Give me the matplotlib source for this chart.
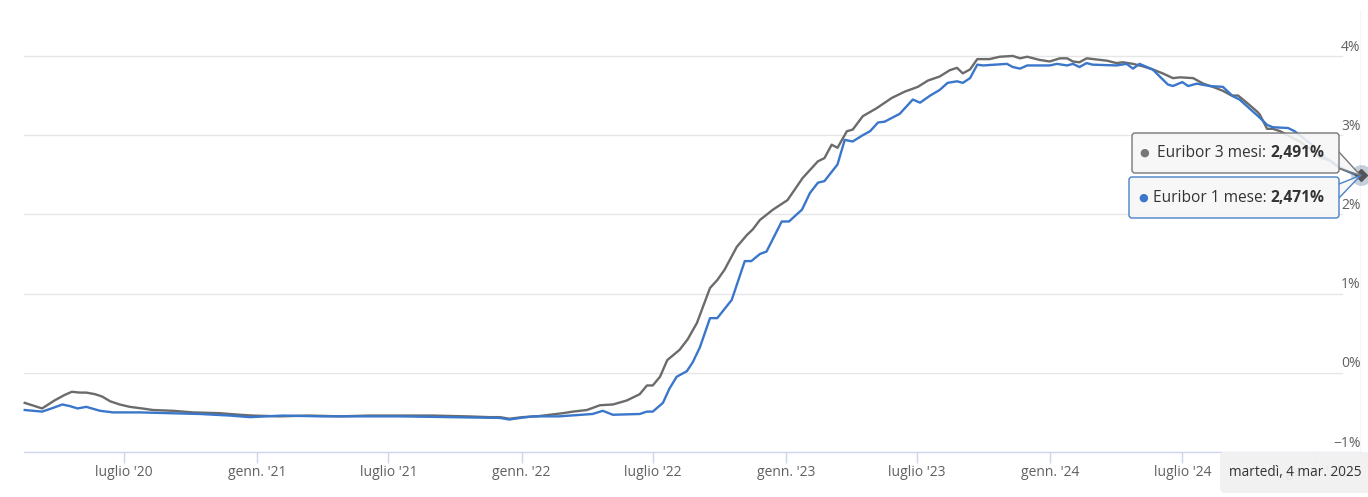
import matplotlib
matplotlib.use("Agg")
import matplotlib.pyplot as plt
import pandas as pd
from matplotlib.patches import FancyBboxPatch, Polygon

plt.rcParams['font.family'] = ['Open Sans', 'DejaVu Sans']

# ---------------- data ----------------
gray_dates = ["2020-02-15","2020-03-10","2020-03-27","2020-04-10","2020-04-20","2020-05-01","2020-05-10","2020-05-22",
              "2020-06-01","2020-06-12","2020-06-25","2020-07-09","2020-07-26","2020-08-10","2020-09-07","2020-10-04",
              "2020-11-10","2020-12-08","2020-12-26","2021-02-01","2021-03-14","2021-04-25","2021-06-05","2021-07-17",
              "2021-08-31","2021-10-17","2021-11-18","2021-12-02","2021-12-15","2022-01-02","2022-01-22","2022-02-09",
              "2022-02-27","2022-03-13","2022-04-01","2022-04-19","2022-05-07","2022-05-26","2022-06-13","2022-06-23",
              "2022-07-01","2022-07-11","2022-07-21","2022-08-07","2022-08-18","2022-08-31","2022-09-18","2022-09-28",
              "2022-10-08","2022-10-25","2022-11-08","2022-11-16","2022-11-26","2022-12-14","2023-01-03","2023-01-24",
              "2023-02-14","2023-02-23","2023-03-05","2023-03-13","2023-03-26","2023-04-03","2023-04-17","2023-05-06",
              "2023-05-27","2023-06-14","2023-07-02","2023-07-16","2023-08-01","2023-08-15","2023-08-25","2023-09-02",
              "2023-09-12","2023-09-22","2023-10-09","2023-10-23","2023-11-10","2023-11-20","2023-11-30","2023-12-17",
              "2023-12-31","2024-01-14","2024-01-24","2024-02-01","2024-02-10","2024-02-20","2024-03-19","2024-04-01",
              "2024-04-10","2024-04-24","2024-05-07","2024-05-21","2024-06-04","2024-06-18","2024-06-28","2024-07-16",
              "2024-07-30","2024-08-12","2024-08-26","2024-09-07","2024-09-16","2024-09-28","2024-10-12","2024-10-16",
              "2024-10-26","2024-11-03","2024-11-13","2024-11-27","2024-12-10","2024-12-24","2025-01-07","2025-01-21",
              "2025-02-04","2025-02-18","2025-03-04"]
gray_values = [-0.38,-0.45,-0.35,-0.28,-0.24,-0.25,-0.25,-0.27,
               -0.30,-0.36,-0.40,-0.43,-0.45,-0.47,-0.48,-0.50,
               -0.51,-0.53,-0.54,-0.55,-0.54,-0.55,-0.54,-0.54,
               -0.54,-0.55,-0.56,-0.56,-0.58,-0.56,-0.55,-0.53,
               -0.51,-0.49,-0.47,-0.41,-0.40,-0.35,-0.27,-0.16,
               -0.16,-0.05,0.16,0.29,0.42,0.63,1.07,1.17,
               1.30,1.59,1.74,1.81,1.93,2.06,2.18,2.46,
               2.67,2.71,2.88,2.84,3.05,3.07,3.24,3.34,
               3.47,3.55,3.61,3.69,3.74,3.82,3.85,3.78,
               3.83,3.96,3.96,3.99,4.00,3.97,3.99,3.95,
               3.93,3.97,3.97,3.93,3.92,3.97,3.94,3.91,
               3.92,3.90,3.87,3.83,3.78,3.72,3.73,3.72,
               3.65,3.61,3.56,3.50,3.50,3.41,3.30,3.26,
               3.08,3.08,3.05,2.98,2.92,2.83,2.72,2.68,
               2.58,2.53,2.491]

blue_dates = ["2020-02-15","2020-03-10","2020-03-23","2020-04-07","2020-04-17","2020-04-28","2020-05-10","2020-05-29",
              "2020-06-16","2020-07-23","2020-09-02","2020-10-14","2020-11-24","2020-12-22","2021-02-05","2021-03-28",
              "2021-05-23","2021-07-17","2021-09-24","2021-12-02","2021-12-15","2021-12-30","2022-01-16","2022-02-22",
              "2022-04-09","2022-04-23","2022-05-07","2022-06-13","2022-06-23","2022-07-01","2022-07-15","2022-07-24",
              "2022-08-03","2022-08-17","2022-08-25","2022-09-04","2022-09-18","2022-09-28","2022-10-18","2022-11-05",
              "2022-11-14","2022-11-26","2022-12-05","2022-12-26","2023-01-05","2023-01-23","2023-02-03","2023-02-14",
              "2023-02-23","2023-03-13","2023-03-23","2023-04-03","2023-04-17","2023-04-27","2023-05-08","2023-05-17",
              "2023-06-07","2023-06-25","2023-07-05","2023-07-19","2023-08-01","2023-08-12","2023-08-25","2023-09-02",
              "2023-09-12","2023-09-22","2023-09-30","2023-11-02","2023-11-10","2023-11-20","2023-11-30","2023-12-31",
              "2024-01-10","2024-01-24","2024-02-01","2024-02-10","2024-02-20","2024-02-28","2024-04-01","2024-04-15",
              "2024-04-24","2024-05-03","2024-05-21","2024-06-11","2024-06-18","2024-07-01","2024-07-09","2024-07-21",
              "2024-08-08","2024-08-26","2024-09-09","2024-09-18","2024-10-16","2024-10-26","2024-11-03","2024-11-24",
              "2024-12-03","2024-12-17","2024-12-31","2025-01-14","2025-01-28","2025-02-11","2025-03-04"]
blue_values = [-0.47,-0.49,-0.45,-0.40,-0.42,-0.45,-0.43,-0.48,
               -0.50,-0.50,-0.51,-0.52,-0.54,-0.56,-0.54,-0.55,
               -0.55,-0.55,-0.56,-0.57,-0.59,-0.57,-0.55,-0.55,
               -0.52,-0.48,-0.53,-0.52,-0.49,-0.49,-0.38,-0.20,
               -0.05,0.02,0.13,0.32,0.69,0.69,0.92,1.41,
               1.41,1.50,1.53,1.91,1.91,2.06,2.27,2.40,
               2.42,2.63,2.94,2.92,3.00,3.05,3.16,3.17,
               3.27,3.45,3.41,3.50,3.57,3.66,3.68,3.66,
               3.72,3.89,3.88,3.90,3.86,3.84,3.88,3.88,
               3.90,3.88,3.90,3.86,3.91,3.89,3.88,3.90,
               3.84,3.90,3.83,3.64,3.62,3.67,3.62,3.65,
               3.62,3.61,3.49,3.45,3.22,3.13,3.10,3.09,
               3.05,2.95,2.85,2.72,2.63,2.56,2.471]

tick_dates = ["2020-07-01","2021-01-01","2021-07-01","2022-01-01","2022-07-01",
              "2023-01-01","2023-07-01","2024-01-01","2024-07-01","2025-01-01"]
tick_labels = ["luglio '20","genn. '21","luglio '21","genn. '22","luglio '22",
               "genn. '23","luglio '23","genn. '24","luglio '24","genn. '25"]
y_ticks = [-1, 0, 1, 2, 3, 4]
y_labels = ["\u22121%", "0%", "1%", "2%", "3%", "4%"]

name_3m = "Euribor 3 mesi: "
name_1m = "Euribor 1 mese: "
last_3m = "2,491%"
last_1m = "2,471%"
tooltip_date = "martedì, 4 mar. 2025"

# ---------------- figure ----------------
W, H = 1368, 497
fig = plt.figure(figsize=(W / 100, H / 100), dpi=100)
fig.patch.set_facecolor("white")

def fx(px):
    return px / W

def fy(py):
    return 1 - py / H

ax = fig.add_axes([fx(24), fy(452), fx(1360.5) - fx(24), fy(10) - fy(452)])
ax.set_facecolor("none")

GRAY = "#6b6b6b"
BLUE = "#3a76c9"
TXT = "#606060"

gd = pd.to_datetime(gray_dates)
bd = pd.to_datetime(blue_dates)

ax.set_xlim(pd.Timestamp("2020-02-14"), pd.Timestamp("2025-03-04"))
ax.set_ylim(-1, 4.58)

# gridlines (stop short of the y labels)
grid_frac = (1342 - 24) / (1360.5 - 24)
for v in y_ticks[1:]:
    ax.axhline(v, xmin=0, xmax=grid_frac, color="#e6e6e6", lw=1, zorder=0)

# crosshair at hovered point
ax.axvline(bd[-1], color="#cccccc", lw=1, zorder=1)

ax.plot(gd, gray_values, color=GRAY, lw=1.7, zorder=3, clip_on=False, solid_joinstyle="round")
ax.plot(bd, blue_values, color=BLUE, lw=1.7, zorder=4, clip_on=False, solid_joinstyle="round")

# hover halo and markers
ax.plot([gd[-1]], [gray_values[-1]], "o", ms=15, color=(0.35, 0.45, 0.6, 0.35), mec="none",
        zorder=5, clip_on=False)
ax.plot([bd[-1]], [blue_values[-1]], "o", ms=5.5, color=BLUE, mec="white", mew=0.5,
        zorder=6, clip_on=False)
ax.plot([gd[-1]], [gray_values[-1]], "D", ms=6, color="#555555", mec="#555555",
        zorder=7, clip_on=False)

for s in ["top", "left", "right"]:
    ax.spines[s].set_visible(False)
ax.spines["bottom"].set_color("#ccd6eb")
ax.spines["bottom"].set_linewidth(1)

ax.set_xticks(pd.to_datetime(tick_dates))
ax.set_xticklabels(tick_labels)
ax.tick_params(axis="x", length=8, width=1, color="#ccd6eb", labelcolor=TXT,
               labelsize=10, pad=1.0)
ax.set_yticks([])

for v, lab in zip(y_ticks, y_labels):
    ax.annotate(lab, xy=(1, v), xycoords=("axes fraction", "data"),
                xytext=(0, 1.0), textcoords="offset points",
                ha="right", va="bottom", fontsize=10, color=TXT, zorder=2)

# ---------------- overlay for tooltips (pixel coordinates) ----------------
ov = fig.add_axes([0, 0, 1, 1], zorder=10)
ov.set_xlim(0, W)
ov.set_ylim(H, 0)
ov.axis("off")
ov.patch.set_visible(False)

# anchor pixel of hovered point
disp = ax.transData.transform((matplotlib.dates.date2num(gd[-1]), gray_values[-1]))
anc_x, anc_y = disp[0], H - disp[1]

box_fc = (0.965, 0.965, 0.965, 0.88)

def callout(x0, y0, x1, y1, edge, p_top, p_bot):
    tri = Polygon([(x1 - 1, p_top), (anc_x, anc_y), (x1 - 1, p_bot)], closed=True,
                  facecolor=box_fc, edgecolor="none", zorder=1)
    ov.add_patch(tri)
    ov.plot([x1, anc_x], [p_top, anc_y], color=edge, lw=1, zorder=2)
    ov.plot([x1, anc_x], [p_bot, anc_y], color=edge, lw=1, zorder=2)
    box = FancyBboxPatch((x0, y0), x1 - x0, y1 - y0,
                         boxstyle="round,pad=0,rounding_size=3",
                         facecolor=box_fc, edgecolor=edge, lw=1, zorder=3)
    ov.add_patch(box)

callout(1132, 133, 1339, 173, "#777777", 152, 168)
callout(1129, 177, 1339, 218, "#4a80c8", 184, 198)

def tooltip_text(xdot, xtxt, yc, dot_color, name, value):
    ov.text(xdot, yc, "\u25cf", color=dot_color, fontsize=8, ha="center", va="center", zorder=4,
            family=["DejaVu Sans"])
    t = ov.text(xtxt, yc, name, color="#333333", fontsize=11.2, ha="left", va="center", zorder=4)
    ov.annotate(value, xy=(1, 0), xycoords=t, ha="left", va="bottom", color="#333333",
                fontsize=11.2, fontweight="bold", zorder=4)

tooltip_text(1144, 1157, 153, "#777777", name_3m, last_3m)
tooltip_text(1143, 1153, 197.5, BLUE, name_1m, last_1m)

# date tooltip at the bottom (semi-transparent, as in the reference)
shadow = FancyBboxPatch((1221, 453), 160, 40, boxstyle="round,pad=0,rounding_size=3",
                        facecolor=(0, 0, 0, 0.06), edgecolor="none", zorder=5)
ov.add_patch(shadow)
dbox = FancyBboxPatch((1220, 452), 160, 39, boxstyle="round,pad=0,rounding_size=3",
                      facecolor=(0.95, 0.95, 0.95, 0.93), edgecolor="none", zorder=6)
ov.add_patch(dbox)
ov.text(1229, 472, tooltip_date, color="#333333", fontsize=9.8, ha="left", va="center", zorder=7)

fig.savefig("out.png", dpi=100, facecolor="white")
